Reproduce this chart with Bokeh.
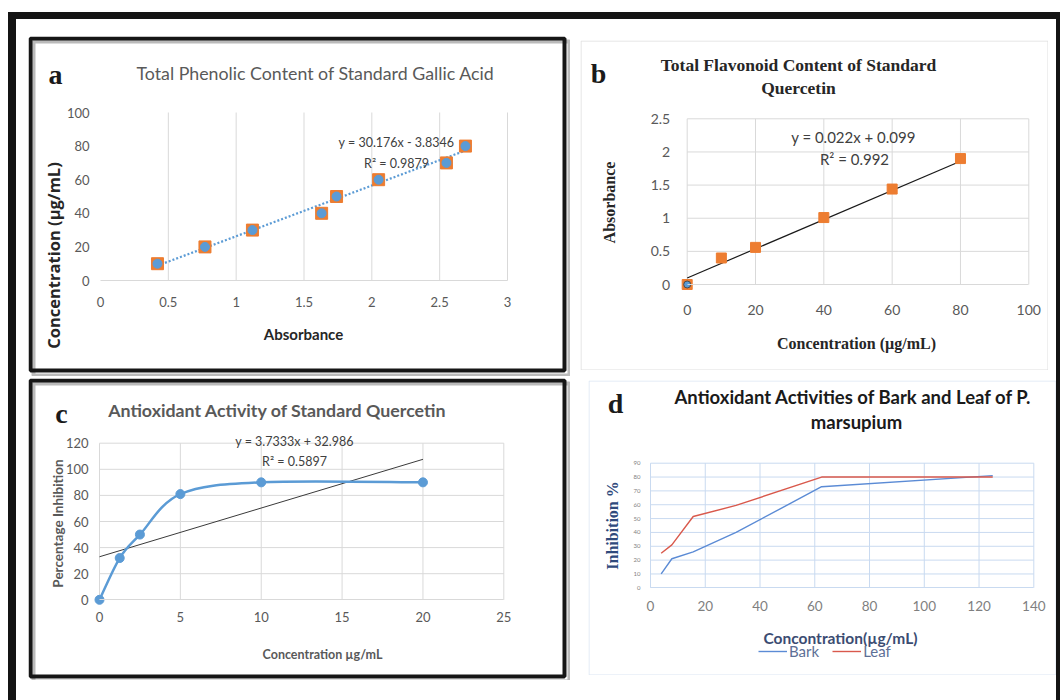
import math
from bokeh.plotting import figure
from bokeh.models import (Range1d, Label, FixedTicker, NumeralTickFormatter, Legend, LegendItem,
                          LinearAxis, BoxAnnotation)
from bokeh.layouts import column, row
from bokeh.embed import file_html
from bokeh.resources import INLINE

# ---------------- data ----------------
# (a) Total phenolic content of standard gallic acid
a_absorbance = [0.42, 0.77, 1.12, 1.63, 1.74, 2.05, 2.55, 2.69]
a_concentration = [10, 20, 30, 40, 50, 60, 70, 80]
a_slope, a_intercept = 30.176, -3.8346
a_equation = "y = 30.176x - 3.8346"
a_r2 = "R² = 0.9879"
a_xticks = [0, 0.5, 1, 1.5, 2, 2.5, 3]
a_yticks = [0, 20, 40, 60, 80, 100]

# (b) Total flavonoid content of standard quercetin
b_concentration = [0, 10, 20, 40, 60, 80]
b_absorbance = [0, 0.40, 0.56, 1.01, 1.44, 1.90]
b_slope, b_intercept = 0.022, 0.099
b_equation = "y = 0.022x + 0.099"
b_r2 = "R² = 0.992"
b_xticks = [0, 20, 40, 60, 80, 100]
b_yticks = [0, 0.5, 1, 1.5, 2, 2.5]

# (c) Antioxidant activity of standard quercetin
c_concentration = [0, 1.25, 2.5, 5, 10, 20]
c_inhibition = [0, 32, 50, 81, 90, 90]
c_slope, c_intercept = 3.7333, 32.986
c_equation = "y = 3.7333x + 32.986"
c_r2 = "R² = 0.5897"
c_xticks = [0, 5, 10, 15, 20, 25]
c_yticks = [0, 20, 40, 60, 80, 100, 120]

# (d) Antioxidant activities of bark and leaf
d_concentration = [3.9, 7.8, 15.6, 31.25, 62.5, 125]
d_bark = [10, 21, 26, 40, 73, 81]
d_leaf = [25, 31, 51.5, 59.5, 80, 80]
d_xticks = [0, 20, 40, 60, 80, 100, 120, 140]
d_yticks = [0, 10, 20, 30, 40, 50, 60, 70, 80, 90]

SANS = "Lato"
SERIF = "Liberation Serif"


def make_panel(canvas, data_rect, xticks, yticks, margin, tick_size, tick_color,
               x_standoff, y_standoff, axis_color="#d9d9d9"):
    """Figure whose frame is the whole panel; the plotting area is mapped onto data_rect."""
    X0, Y0, W, H = canvas
    l, t, r, b = data_rect
    x0, x1 = xticks[0], xticks[-1]
    y0, y1 = yticks[0], yticks[-1]
    sx = (r - l) / (x1 - x0)
    sy = (b - t) / (y1 - y0)
    xr = Range1d(x0 - (l - X0) / sx, x1 + (X0 + W - r) / sx)
    yr = Range1d(y0 - (Y0 + H - b) / sy, y1 + (t - Y0) / sy)
    p = figure(width=W, height=H, output_backend="svg", toolbar_location=None,
               x_range=xr, y_range=yr, x_axis_location=None, y_axis_location=None,
               min_border=0, margin=margin)
    p.outline_line_color = None
    p.background_fill_color = "white"
    p.border_fill_color = "white"
    p.xgrid.visible = False
    p.ygrid.visible = False
    xa = LinearAxis(fixed_location=y0, bounds=(x0, x1), ticker=FixedTicker(ticks=xticks))
    ya = LinearAxis(fixed_location=x0, bounds=(y0, y1), ticker=FixedTicker(ticks=yticks))
    for ax in (xa, ya):
        ax.major_tick_line_color = None
        ax.minor_tick_line_color = None
        ax.major_tick_out = 0
        ax.major_tick_in = 0
        ax.formatter = NumeralTickFormatter(format="0.[00]")
        ax.major_label_text_font = SANS
        ax.major_label_text_color = tick_color
    xa.major_label_text_font_size = f"{tick_size[0]}px"
    ya.major_label_text_font_size = f"{tick_size[1]}px"
    xa.major_label_standoff = x_standoff
    ya.major_label_standoff = y_standoff
    xa.axis_line_color = axis_color
    ya.axis_line_color = None
    p.add_layout(xa, "below")
    p.add_layout(ya, "left")
    p._geom = (X0, Y0, W, H, sx, sy, xr.start, yr.start)
    return p


def px_x(p, X):
    X0, Y0, W, H, sx, sy, xs, ys = p._geom
    return xs + (X - X0) / sx


def px_y(p, Y):
    X0, Y0, W, H, sx, sy, xs, ys = p._geom
    return ys + (Y0 + H - Y) / sy


def grid(p, xticks, yticks, color, vertical=True, horizontal=True, skip_first_x=False):
    if vertical:
        xs = xticks[1:] if skip_first_x else xticks
        p.segment(x0=xs, y0=[yticks[0]] * len(xs), x1=xs, y1=[yticks[-1]] * len(xs),
                  line_color=color, line_width=1)
    if horizontal:
        ys = yticks[1:]
        p.segment(x0=[xticks[0]] * len(ys), y0=ys, x1=[xticks[-1]] * len(ys), y1=ys,
                  line_color=color, line_width=1)


def frame_box(p, L, T, R, B, color, width, alpha=1.0):
    p.add_layout(BoxAnnotation(left=px_x(p, L), right=px_x(p, R), top=px_y(p, T), bottom=px_y(p, B),
                               fill_alpha=0, line_color=color, line_width=width, line_alpha=alpha))


def txt(p, X, Y, text, size, color="#262626", font=SANS, bold=False, angle=0.0, align="center"):
    X0, Y0, W, H = p._geom[:4]
    p.add_layout(Label(x=X - X0, y=Y0 + H - Y, x_units="screen", y_units="screen", text=text,
                       text_font=font, text_font_size=f"{size}px", text_color=color,
                       text_font_style="bold" if bold else "normal", angle=angle,
                       text_align=align, text_baseline="middle"))


# ---------------- panel a ----------------
pa = make_panel((28, 36, 542, 340), (100, 112, 507, 280), a_xticks, a_yticks, (17, 0, 0, 12),
                (13, 13), "#595959", 16, 11)
grid(pa, a_xticks, a_yticks, "#d9d9d9", horizontal=False, skip_first_x=True)
a_line_x = [min(a_absorbance), max(a_absorbance)]
pa.line(a_line_x, [a_slope * v + a_intercept for v in a_line_x], line_color="#5B9BD5",
        line_width=2.2, line_dash="2 2")
pa.scatter(a_absorbance, a_concentration, marker="square", size=12, fill_color="#ED7D31", line_color="#ED7D31")
pa.scatter(a_absorbance, a_concentration, marker="circle", size=9, fill_color="#5B9BD5", line_color="#5B9BD5")
frame_box(pa, 33, 41, 569, 375, "#8c8c8c", 4, 0.6)
frame_box(pa, 30, 38, 564, 370, "#161616", 4)
txt(pa, 55, 74, "a", 28, "#1a1a1a", SERIF, True)
txt(pa, 315, 72, "Total Phenolic Content of Standard Gallic Acid", 17.8, "#595959")
txt(pa, 396, 142, a_equation, 12.5, "#404040")
txt(pa, 396, 163, a_r2, 12.5, "#404040")
txt(pa, 303, 333, "Absorbance", 15, "#262626", SANS, True)
txt(pa, 53, 255, "Concentration (µg/mL)", 16.5, "#262626", "Open Sans", True, math.pi / 2)

# ---------------- panel b ----------------
pb = make_panel((580, 40, 468, 330), (686.7, 118.3, 1028.3, 284), b_xticks, b_yticks, (21, 0, 0, 10),
                (14, 14), "#595959", 20, 17)
grid(pb, b_xticks, b_yticks, "#d9d9d9")
b_line_x = [0, max(b_concentration)]
pb.line(b_line_x, [b_slope * v + b_intercept for v in b_line_x], line_color="#1a1a1a", line_width=1.2)
pb.scatter(b_concentration, b_absorbance, marker="square", size=10, fill_color="#ED7D31", line_color="#ED7D31")
pb.scatter(b_concentration[:1], b_absorbance[:1], marker="circle", size=7, fill_color="#5B9BD5", line_color="#4a4a4a")
frame_box(pb, 580.5, 40.5, 1047.5, 369.5, "#dedede", 1)
txt(pb, 598, 73, "b", 28, "#1a1a1a", SERIF, True)
txt(pb, 798, 64, "Total Flavonoid Content of Standard", 17.5, "#262626", SERIF, True)
txt(pb, 798, 87, "Quercetin", 17.5, "#262626", SERIF, True)
txt(pb, 853, 136, b_equation, 15, "#404040")
txt(pb, 854, 158, b_r2, 15, "#404040")
txt(pb, 856, 343, "Concentration (µg/mL)", 16, "#262626", SERIF, True)
txt(pb, 609, 202, "Absorbance", 16, "#262626", SERIF, True, math.pi / 2)

# ---------------- panel c ----------------
pc = make_panel((28, 378, 542, 302), (99, 442.7, 503.3, 599.3), c_xticks, c_yticks, (2, 0, 20, 12),
                (13, 13), "#595959", 12, 11)
grid(pc, c_xticks, c_yticks, "#d9d9d9")
c_line_x = [0, max(c_concentration)]
pc.line(c_line_x, [c_slope * v + c_intercept for v in c_line_x], line_color="#3a3a3a", line_width=1)
# Excel-style smoothed line through the measured points (cubic Bezier segments)
n = len(c_concentration)
P = list(zip(c_concentration, c_inhibition))
x0s, y0s, x1s, y1s, cx0s, cy0s, cx1s, cy1s = [], [], [], [], [], [], [], []
for i in range(n - 1):
    pm = P[i - 1] if i > 0 else P[i]
    p0, p1 = P[i], P[i + 1]
    pp = P[i + 2] if i + 2 < n else P[i + 1]
    x0s.append(p0[0]); y0s.append(p0[1]); x1s.append(p1[0]); y1s.append(p1[1])
    cx0s.append(p0[0] + (p1[0] - pm[0]) / 6); cy0s.append(p0[1] + (p1[1] - pm[1]) / 6)
    cx1s.append(p1[0] - (pp[0] - p0[0]) / 6); cy1s.append(p1[1] - (pp[1] - p0[1]) / 6)
pc.bezier(x0=x0s, y0=y0s, x1=x1s, y1=y1s, cx0=cx0s, cy0=cy0s, cx1=cx1s, cy1=cy1s,
          line_color="#5B9BD5", line_width=2.5)
pc.scatter(c_concentration, c_inhibition, marker="circle", size=9, fill_color="#5B9BD5", line_color="#5B9BD5")
frame_box(pc, 33, 383, 569, 681, "#8c8c8c", 4, 0.6)
frame_box(pc, 30, 380, 564, 676, "#161616", 4)
txt(pc, 61, 413, "c", 28, "#1a1a1a", SERIF, True)
txt(pc, 277, 409, "Antioxidant Activity of Standard Quercetin", 17.8, "#595959", SANS, True)
txt(pc, 294, 441, c_equation, 12.5, "#404040")
txt(pc, 294, 461, c_r2, 12.5, "#404040")
txt(pc, 322, 654, "Concentration µg/mL", 12.5, "#595959", SANS, True)
txt(pc, 57, 523, "Percentage Inhibition", 13.5, "#595959", SANS, True, math.pi / 2)

# ---------------- panel d ----------------
pd_ = make_panel((588, 380, 468, 295), (650, 462.7, 1033.3, 587.3), d_xticks, d_yticks, (4, 0, 0, 18),
                 (13.5, 6), "#7f7f7f", 13, 10, axis_color="#c9daf0")
grid(pd_, d_xticks, d_yticks, "#c9daf0")
r_bark = pd_.line(d_concentration, d_bark, line_color="#5b8bd5", line_width=1.4)
r_leaf = pd_.line(d_concentration, d_leaf, line_color="#d9594c", line_width=1.4)
legend = Legend(items=[LegendItem(label="Bark", renderers=[r_bark]), LegendItem(label="Leaf", renderers=[r_leaf])],
                orientation="horizontal", location=(170, 15), padding=0, margin=0, spacing=13,
                glyph_width=29, glyph_height=16, label_standoff=2, label_height=16,
                label_text_font=SANS, label_text_font_size="15px", label_text_color="#5d6f96",
                border_line_color=None, background_fill_alpha=0)
pd_.add_layout(legend, "center")
frame_box(pd_, 588.5, 380.5, 1055.5, 674.5, "#dbe5f3", 1)
txt(pd_, 615, 403, "d", 28, "#1a1a1a", SERIF, True)
txt(pd_, 855, 396, "Antioxidant Activities of Bark and Leaf of  P.", 18.5, "#1a1a1a", SANS, True)
txt(pd_, 856, 421, "marsupium", 18.5, "#1a1a1a", SANS, True)
txt(pd_, 840, 637, "Concontration(µg/mL)", 15.5, "#3b4c72", SANS, True)
txt(pd_, 612, 525, "Inhibition %", 16, "#2f4a7c", SERIF, True, math.pi / 2)

root = column(row(pa, pb), row(pc, pd_), margin=(12, 0, 0, 8),
              styles={"border-top": "7px solid #141414", "border-left": "8px solid #141414",
                      "border-right": "4px solid #141414", "background": "white"})

open("out.html", "w").write(file_html(root, INLINE))
